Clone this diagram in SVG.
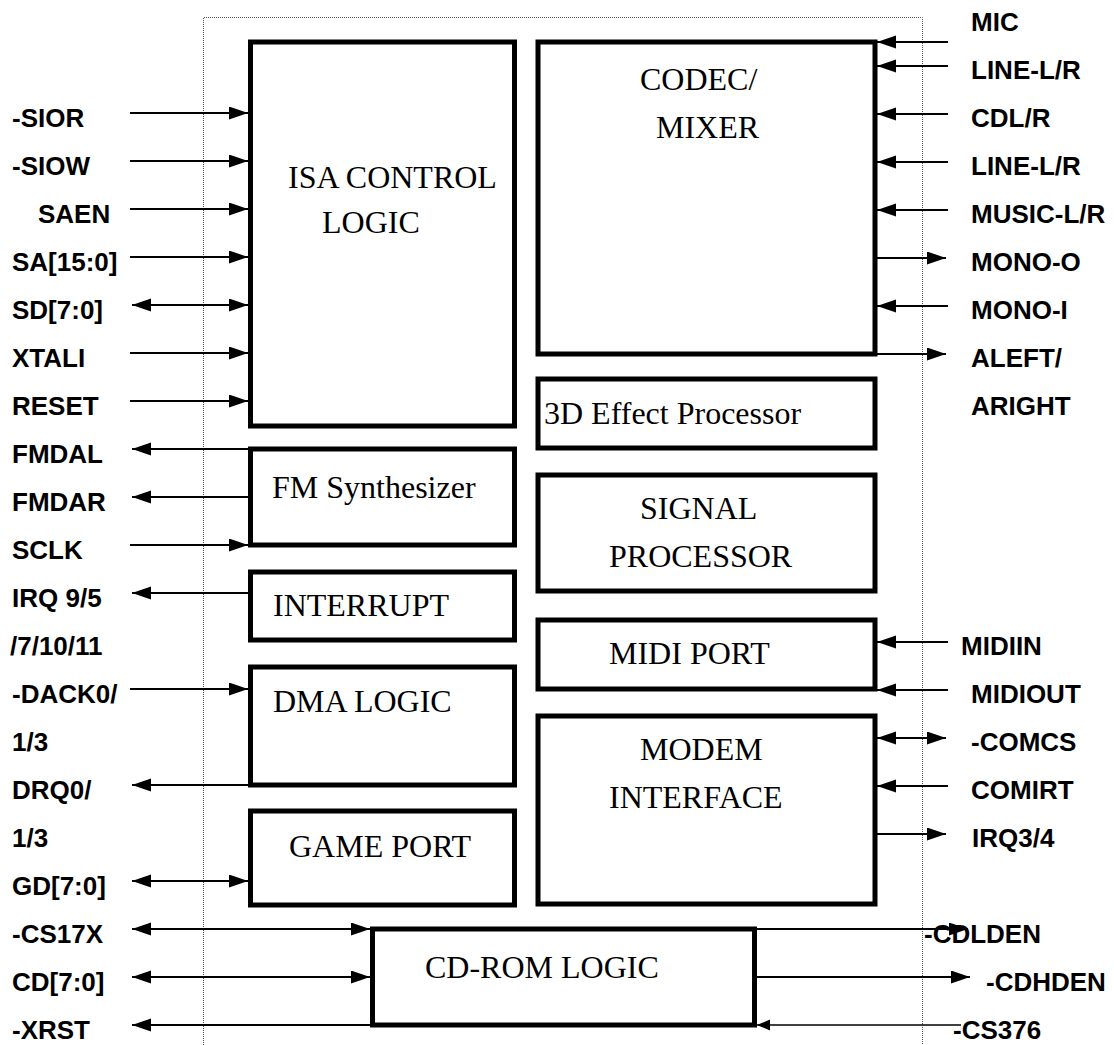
<svg xmlns="http://www.w3.org/2000/svg" width="1114" height="1045" viewBox="0 0 1114 1045">
<style>
.box{fill:#fff;stroke:#000;stroke-width:5}
.bt{font-family:"Liberation Serif","Times New Roman",serif;font-size:32px;fill:#000}
.lbl{font-family:"Liberation Sans",Arial,sans-serif;font-size:26px;font-weight:bold;fill:#000}
.w{stroke:#000;stroke-width:2;fill:none}
.thin{stroke:#000;stroke-width:1.3;fill:none}
.frame{stroke:#555;stroke-width:1;stroke-dasharray:1 1;fill:none}
</style>
<defs>
<marker id="ah" markerUnits="userSpaceOnUse" markerWidth="20" markerHeight="14" refX="19" refY="6.5" orient="auto-start-reverse">
<path d="M0,0 L19,6.5 L0,13 z" fill="#000"/>
</marker>
<marker id="ahs" markerUnits="userSpaceOnUse" markerWidth="14" markerHeight="12" refX="13" refY="5.5" orient="auto-start-reverse">
<path d="M0,0 L13,5.5 L0,11 z" fill="#000"/>
</marker>
</defs>
<rect width="1114" height="1045" fill="#fff"/>
<path class="frame" d="M203.5,1045 V17.5 H922.5 V1045"/>

<g id="connectors">
<!-- left incoming -->
<line class="w" x1="130" y1="113" x2="248" y2="113" marker-end="url(#ah)"/>
<line class="w" x1="130" y1="161" x2="248" y2="161" marker-end="url(#ah)"/>
<line class="w" x1="130" y1="209" x2="248" y2="209" marker-end="url(#ah)"/>
<line class="w" x1="130" y1="257" x2="248" y2="257" marker-end="url(#ah)"/>
<line class="w" x1="132" y1="305" x2="248" y2="305" marker-start="url(#ah)" marker-end="url(#ah)"/>
<line class="w" x1="130" y1="353" x2="248" y2="353" marker-end="url(#ah)"/>
<line class="w" x1="130" y1="401" x2="248" y2="401" marker-end="url(#ah)"/>
<line class="w" x1="248" y1="449" x2="132" y2="449" marker-end="url(#ah)"/>
<line class="w" x1="248" y1="497" x2="132" y2="497" marker-end="url(#ah)"/>
<line class="w" x1="130" y1="545" x2="248" y2="545" marker-end="url(#ah)"/>
<line class="w" x1="248" y1="593" x2="132" y2="593" marker-end="url(#ah)"/>
<line class="w" x1="130" y1="689" x2="248" y2="689" marker-end="url(#ah)"/>
<line class="w" x1="248" y1="785" x2="132" y2="785" marker-end="url(#ah)"/>
<line class="w" x1="132" y1="881" x2="248" y2="881" marker-start="url(#ah)" marker-end="url(#ah)"/>
<line class="w" x1="132" y1="929" x2="370" y2="929" marker-start="url(#ah)" marker-end="url(#ah)"/>
<line class="w" x1="132" y1="977" x2="370" y2="977" marker-start="url(#ah)" marker-end="url(#ah)"/>
<line class="w" x1="370" y1="1025" x2="132" y2="1025" marker-end="url(#ah)"/>
<!-- right side -->
<line class="w" x1="948" y1="42" x2="877" y2="42" marker-end="url(#ah)"/>
<line class="w" x1="948" y1="66" x2="877" y2="66" marker-end="url(#ah)"/>
<line class="w" x1="948" y1="114" x2="877" y2="114" marker-end="url(#ah)"/>
<line class="w" x1="948" y1="162" x2="877" y2="162" marker-end="url(#ah)"/>
<line class="w" x1="948" y1="210" x2="877" y2="210" marker-end="url(#ah)"/>
<line class="w" x1="877" y1="258" x2="946" y2="258" marker-end="url(#ah)"/>
<line class="w" x1="948" y1="306" x2="877" y2="306" marker-end="url(#ah)"/>
<line class="w" x1="877" y1="354" x2="946" y2="354" marker-end="url(#ah)"/>
<line class="w" x1="948" y1="642" x2="877" y2="642" marker-end="url(#ah)"/>
<line class="w" x1="948" y1="690" x2="877" y2="690" marker-end="url(#ah)"/>
<line class="w" x1="877" y1="738" x2="946" y2="738" marker-start="url(#ah)" marker-end="url(#ah)"/>
<line class="w" x1="948" y1="786" x2="877" y2="786" marker-end="url(#ah)"/>
<line class="w" x1="877" y1="834" x2="946" y2="834" marker-end="url(#ah)"/>
<line class="w" x1="757" y1="929" x2="968" y2="929" marker-end="url(#ah)"/>
<line class="w" x1="757" y1="977" x2="970" y2="977" marker-end="url(#ah)"/>
<line class="thin" x1="961" y1="1025" x2="757" y2="1025" marker-end="url(#ahs)"/>
</g>

<g id="isa"><rect class="box" x="250.5" y="42" width="264" height="384"/>
<text class="bt" x="288" y="188">ISA CONTROL</text><text class="bt" x="322" y="233">LOGIC</text></g>
<g id="fm"><rect class="box" x="250.5" y="449" width="264" height="96"/>
<text class="bt" x="272" y="498">FM Synthesizer</text></g>
<g id="interrupt"><rect class="box" x="250.5" y="572" width="264" height="68"/>
<text class="bt" x="273" y="616">INTERRUPT</text></g>
<g id="dma"><rect class="box" x="250.5" y="667" width="264" height="118"/>
<text class="bt" x="273" y="712">DMA LOGIC</text></g>
<g id="game"><rect class="box" x="250.5" y="811" width="264" height="94"/>
<text class="bt" x="289" y="857">GAME PORT</text></g>
<g id="cdrom"><rect class="box" x="372.5" y="929" width="382" height="96"/>
<text class="bt" x="425" y="978">CD-ROM LOGIC</text></g>
<g id="codec"><rect class="box" x="538" y="42" width="337" height="312"/>
<text class="bt" x="640" y="90">CODEC/</text><text class="bt" x="656" y="138">MIXER</text></g>
<g id="effect3d"><rect class="box" x="538" y="379" width="337" height="69"/>
<text class="bt" x="544" y="424">3D Effect Processor</text></g>
<g id="signal"><rect class="box" x="538" y="475" width="337" height="116"/>
<text class="bt" x="640" y="519">SIGNAL</text><text class="bt" x="609" y="567">PROCESSOR</text></g>
<g id="midi"><rect class="box" x="538" y="620" width="337" height="69"/>
<text class="bt" x="609" y="664">MIDI PORT</text></g>
<g id="modem"><rect class="box" x="538" y="716" width="337" height="188"/>
<text class="bt" x="640" y="760">MODEM</text><text class="bt" x="609" y="808">INTERFACE</text></g>

<g id="labels-left">
<text class="lbl" x="12" y="127">-SIOR</text>
<text class="lbl" x="12" y="175">-SIOW</text>
<text class="lbl" x="38" y="223">SAEN</text>
<text class="lbl" x="12" y="271">SA[15:0]</text>
<text class="lbl" x="12" y="319">SD[7:0]</text>
<text class="lbl" x="12" y="367">XTALI</text>
<text class="lbl" x="12" y="415">RESET</text>
<text class="lbl" x="12" y="463">FMDAL</text>
<text class="lbl" x="12" y="511">FMDAR</text>
<text class="lbl" x="12" y="559">SCLK</text>
<text class="lbl" x="12" y="607">IRQ 9/5</text>
<text class="lbl" x="10" y="655">/7/10/11</text>
<text class="lbl" x="12" y="703">-DACK0/</text>
<text class="lbl" x="12" y="751">1/3</text>
<text class="lbl" x="12" y="799">DRQ0/</text>
<text class="lbl" x="12" y="847">1/3</text>
<text class="lbl" x="12" y="895">GD[7:0]</text>
<text class="lbl" x="12" y="943">-CS17X</text>
<text class="lbl" x="12" y="991">CD[7:0]</text>
<text class="lbl" x="12" y="1039">-XRST</text>
</g>
<g id="labels-right">
<text class="lbl" x="971" y="31">MIC</text>
<text class="lbl" x="971" y="79">LINE-L/R</text>
<text class="lbl" x="971" y="127">CDL/R</text>
<text class="lbl" x="971" y="175">LINE-L/R</text>
<text class="lbl" x="971" y="223">MUSIC-L/R</text>
<text class="lbl" x="971" y="271">MONO-O</text>
<text class="lbl" x="971" y="319">MONO-I</text>
<text class="lbl" x="971" y="367">ALEFT/</text>
<text class="lbl" x="971" y="415">ARIGHT</text>
<text class="lbl" x="961" y="655">MIDIIN</text>
<text class="lbl" x="971" y="703">MIDIOUT</text>
<text class="lbl" x="971" y="751">-COMCS</text>
<text class="lbl" x="971" y="799">COMIRT</text>
<text class="lbl" x="972" y="847">IRQ3/4</text>
<text class="lbl" x="924" y="943">-CDLDEN</text>
<text class="lbl" x="986" y="991">-CDHDEN</text>
<text class="lbl" x="953" y="1039">-CS376</text>
</g>
</svg>
